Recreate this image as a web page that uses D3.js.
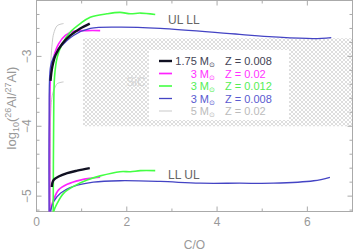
<!DOCTYPE html>
<html>
<head>
<meta charset="utf-8">
<script src="https://cdn.jsdelivr.net/npm/d3@7"></script>
<style>
body { margin: 0; background: #fff; }
text { font-family: "Liberation Sans", Arial, sans-serif; }
</style>
</head>
<body>
<svg id="chart" width="354" height="251"></svg>
<script>
// upper tracks (UL) and lower tracks (LL), [C/O, log10(26Al/27Al)]
var black_up = [[0.31,-3.35],[0.35,-3.15],[0.42,-2.985],[0.57,-2.82],[0.75,-2.70],[0.97,-2.60],[1.18,-2.53]];
var black_lo = [[0.34,-4.87],[0.35,-4.815],[0.38,-4.77],[0.49,-4.72],[0.68,-4.67],[0.90,-4.635],[1.18,-4.60]];
var magenta_up = [[0.29,-5.3],[0.29,-3.9],[0.31,-3.29],[0.38,-3.01],[0.49,-2.82],[0.64,-2.70],[0.82,-2.64],[1.12,-2.63],[1.41,-2.63]];
var magenta_lo = [[0.30,-5.3],[0.31,-5.20],[0.38,-5.05],[0.49,-4.91],[0.68,-4.83],[0.97,-4.77],[1.19,-4.745],[1.41,-4.73]];
var green_up = [[0.37,-5.3],[0.38,-3.96],[0.40,-3.29],[0.46,-3.01],[0.57,-2.82],[0.75,-2.65],[0.97,-2.53],[1.19,-2.44],[1.56,-2.39],[1.85,-2.37],[2.08,-2.39],[2.30,-2.38],[2.63,-2.40]];
var green_lo = [[0.37,-5.3],[0.38,-5.22],[0.46,-5.10],[0.60,-4.96],[0.82,-4.86],[1.12,-4.77],[1.41,-4.71],[1.85,-4.65],[2.08,-4.65],[2.30,-4.635],[2.63,-4.635]];
var blue_up = [[0.28,-5.3],[0.28,-3.96],[0.31,-3.15],[0.38,-3.01],[0.53,-2.87],[0.82,-2.70],[1.19,-2.60],[1.85,-2.58],[2.74,-2.60],[4.5,-2.685],[5.25,-2.72],[6.14,-2.745],[6.53,-2.73]];
var blue_lo = [[0.30,-5.3],[0.31,-5.22],[0.38,-5.08],[0.53,-4.96],[0.82,-4.86],[1.26,-4.80],[1.85,-4.78],[2.74,-4.79],[3.62,-4.815],[4.5,-4.815],[5.25,-4.815],[6.14,-4.78],[6.5,-4.73]];
var gray_up = [[0.31,-5.3],[0.31,-3.5],[0.32,-3.06],[0.35,-2.80],[0.38,-2.675],[0.46,-2.56],[0.60,-2.53]];
var gray_lo = [[0.30,-5.3],[0.31,-3.9],[0.35,-3.555],[0.40,-3.46],[0.46,-3.39],[0.60,-3.365]];

var masses = ['1.75', '3', '3', '3', '5'];
var metallicities = ['0.008', '0.02', '0.012', '0.008', '0.02'];
var x_ticks = [0, 2, 4, 6];
var y_ticks = [-3, -4, -5];

// SiC grain region
var sic_box = [[1.03, -4.0], [7, -2.74]];

draw();

function draw()
{
	var series = [
		{ color: '#bbbbbb', text: '#bbbbbb', width: 0.8, tracks: [gray_up, gray_lo] },
		{ color: '#ff22ff', text: '#ff33ff', width: 1.7, tracks: [magenta_up, magenta_lo] },
		{ color: '#4444c4', text: '#5a5ad0', width: 1.3, tracks: [blue_up, blue_lo] },
		{ color: '#44ff44', text: '#55ee55', width: 1.6, tracks: [green_up, green_lo] },
		{ color: '#111122', text: '#444455', width: 2.4, tracks: [black_up, black_lo] }
	];
	var legend_order = [4, 1, 3, 2, 0];

	var left = 36.5, right = 352.5, top = 0.5, bottom = 211.5;
	var axis_color = '#aaaaaa', label_color = '#999999';

	var svg = d3.select('#chart');
	var x = d3.scaleLinear().domain([0, 7]).range([left, right]);
	var y = d3.scaleLinear().domain([-5.22, -2.2]).range([bottom, top]);

	var defs = svg.append('defs');
	defs.append('clipPath').attr('id', 'plot_clip')
		.append('rect')
		.attr('x', left).attr('y', top)
		.attr('width', right - left).attr('height', bottom - top);
	var pat = defs.append('pattern')
		.attr('id', 'hatch')
		.attr('patternUnits', 'userSpaceOnUse')
		.attr('width', 4).attr('height', 4);
	pat.append('rect').attr('width', 4).attr('height', 4).attr('fill', '#fff');
	pat.append('path').attr('d', 'M0,0 L4,4 M4,0 L0,4').attr('stroke', '#d0d0d0').attr('stroke-width', 0.7);

	// SiC region
	svg.append('rect')
		.attr('x', x(sic_box[0][0]))
		.attr('y', y(sic_box[1][1]))
		.attr('width', x(sic_box[1][0]) - x(sic_box[0][0]))
		.attr('height', y(sic_box[0][1]) - y(sic_box[1][1]))
		.attr('fill', 'url(#hatch)')
		.attr('clip-path', 'url(#plot_clip)');
	svg.append('text')
		.attr('x', 136).attr('y', 86)
		.attr('text-anchor', 'middle')
		.attr('font-size', 12)
		.attr('fill', '#d4d4d4')
		.text('SiC');

	// Axes frame and ticks
	var frame = svg.append('g').attr('stroke', axis_color).attr('fill', 'none');
	frame.append('rect')
		.attr('x', left).attr('y', top)
		.attr('width', right - left).attr('height', bottom - top)
		.attr('stroke-width', 1);

	var x_minor = d3.range(1, 8, 2);
	frame.selectAll('.xt').data(x_ticks.concat(x_minor)).enter().append('path')
		.attr('d', d => {
			var len = x_ticks.indexOf(d) >= 0 ? 5 : 3;
			return 'M' + x(d) + ',' + bottom + 'v' + (-len) + 'M' + x(d) + ',' + top + 'v' + len;
		});
	var y_all = d3.range(-5.2, -2.2, 0.2).map(v => Math.round(v * 10) / 10);
	frame.selectAll('.yt').data(y_all).enter().append('path')
		.attr('d', d => {
			var len = y_ticks.indexOf(d) >= 0 ? 5 : 3;
			return 'M' + left + ',' + y(d) + 'h' + len + 'M' + right + ',' + y(d) + 'h' + (-len);
		});

	svg.selectAll('.xl').data(x_ticks).enter().append('text')
		.attr('x', d => x(d)).attr('y', 226)
		.attr('text-anchor', 'middle')
		.attr('font-size', 12)
		.attr('fill', label_color)
		.text(d => d);
	svg.selectAll('.yl').data(y_ticks).enter().append('text')
		.attr('transform', d => 'translate(31,' + y(d) + ') rotate(-90)')
		.attr('text-anchor', 'middle')
		.attr('font-size', 12)
		.attr('fill', label_color)
		.text(d => '\u2212' + Math.abs(d));

	svg.append('text')
		.attr('x', (left + right) / 2).attr('y', 249)
		.attr('text-anchor', 'middle')
		.attr('font-size', 12)
		.attr('fill', label_color)
		.text('C/O');

	var ylab = svg.append('text')
		.attr('transform', 'translate(16,108) rotate(-90)')
		.attr('text-anchor', 'middle')
		.attr('font-size', 13)
		.attr('fill', label_color);
	ylab.append('tspan').text('log');
	ylab.append('tspan').attr('font-size', 9).attr('dy', 3).text('10');
	ylab.append('tspan').attr('dy', -3).text('(');
	ylab.append('tspan').attr('font-size', 9).attr('dy', -5).text('26');
	ylab.append('tspan').attr('dy', 5).text('Al/');
	ylab.append('tspan').attr('font-size', 9).attr('dy', -5).text('27');
	ylab.append('tspan').attr('dy', 5).text('Al)');

	// Tracks
	var line = d3.line()
		.x(d => x(d[0]))
		.y(d => y(d[1]))
		.curve(d3.curveCatmullRom.alpha(0.5));
	var tracks = svg.append('g').attr('clip-path', 'url(#plot_clip)');
	series.forEach(function(s)
	{
		s.tracks.forEach(function(t)
		{
			tracks.append('path')
				.attr('d', line(t))
				.attr('fill', 'none')
				.attr('stroke', s.color)
				.attr('stroke-width', s.width)
				.attr('stroke-linejoin', 'round');
		});
	});

	// Branch labels
	svg.append('text').attr('x', 168).attr('y', 24).attr('font-size', 12).attr('fill', '#666').text('UL LL');
	svg.append('text').attr('x', 168).attr('y', 179).attr('font-size', 12).attr('fill', '#666').text('LL UL');

	// Legend
	var legend = svg.append('g');
	legend.append('rect')
		.attr('x', 149).attr('y', 50)
		.attr('width', 140).attr('height', 70)
		.attr('fill', '#fff');
	legend_order.forEach(function(si, i)
	{
		var s = series[si];
		var cy = 61 + i * 12.5;
		legend.append('line')
			.attr('x1', 159).attr('x2', 172)
			.attr('y1', cy).attr('y2', cy)
			.attr('stroke', s.color)
			.attr('stroke-width', s.width);
		var t = legend.append('text')
			.attr('x', 215).attr('y', cy + 4)
			.attr('text-anchor', 'end')
			.attr('font-size', 11)
			.attr('fill', s.text);
		t.append('tspan').text(masses[i] + ' M');
		t.append('tspan').attr('font-size', 7).attr('dy', 2).text('\u2299');
		legend.append('text')
			.attr('x', 225).attr('y', cy + 4)
			.attr('font-size', 11)
			.attr('fill', s.text)
			.text('Z = ' + metallicities[i]);
	});
}
</script>
</body>
</html>
